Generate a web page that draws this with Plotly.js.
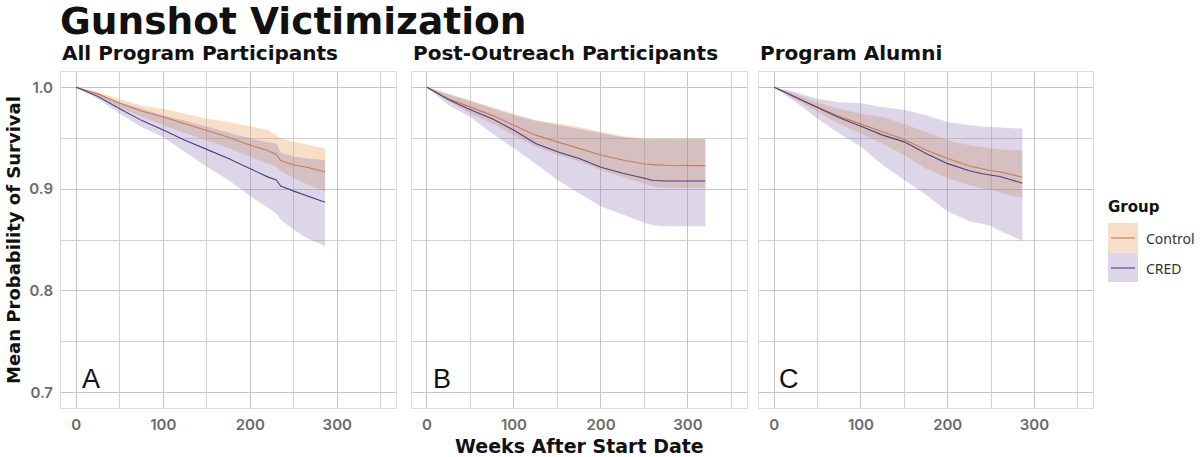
<!DOCTYPE html>
<html>
<head>
<meta charset="utf-8">
<script src="https://cdn.plot.ly/plotly-3.0.1.min.js"></script>
<style>html,body{margin:0;padding:0;background:#fff;}#chart{width:1200px;height:457px;}</style>
</head>
<body>
<div id="chart"></div>
<script>
// ---- Data ----
const panelTitles = ["All Program Participants", "Post-Outreach Participants", "Program Alumni"];
const panelLetters = ["A", "B", "C"];
const groups = ["Control", "CRED"];
const xTicks = [0, 100, 200, 300];
const yTicks = [0.7, 0.8, 0.9, 1.0];

// Panel A
const weeksA = [0,25,50,75,100,125,150,175,200,220,230,235,250,265,286];
const controlA = [1,0.9935,0.9844,0.9766,0.9708,0.964,0.9578,0.951,0.943,0.938,0.934,0.928,0.9237,0.9214,0.917];
const credA = [1,0.991,0.979,0.9675,0.958,0.948,0.939,0.930,0.920,0.912,0.909,0.903,0.898,0.8935,0.887];
const controlUpA = [1,0.995,0.9886,0.982,0.979,0.974,0.969,0.966,0.9617,0.958,0.953,0.950,0.9464,0.944,0.940];
const controlLoA = [1,0.991,0.9805,0.971,0.9627,0.955,0.948,0.940,0.9318,0.925,0.922,0.918,0.9107,0.905,0.8977];
const credUpA = [1,0.994,0.9854,0.979,0.9724,0.967,0.961,0.955,0.9497,0.946,0.9448,0.936,0.932,0.930,0.9286];
const credLoA = [1,0.9886,0.974,0.961,0.951,0.9367,0.922,0.909,0.893,0.882,0.876,0.870,0.860,0.852,0.844];

// Panel B
const weeksB = [0,25,50,75,100,125,150,175,200,225,250,260,275,320];
const controlB = [1,0.9886,0.9805,0.9724,0.9627,0.953,0.9464,0.94,0.9334,0.9286,0.9247,0.924,0.9234,0.923];
const credB = [1,0.9877,0.978,0.969,0.9578,0.9448,0.9367,0.930,0.9214,0.9156,0.9107,0.9084,0.908,0.908];
const controlUpB = [1,0.9935,0.987,0.9805,0.974,0.9675,0.9643,0.961,0.9562,0.952,0.9497,0.9497,0.9497,0.9497];
const controlLoB = [1,0.9864,0.974,0.9643,0.953,0.9416,0.9334,0.927,0.9188,0.9123,0.9058,0.9026,0.901,0.901];
const credUpB = [1,0.993,0.986,0.979,0.9725,0.967,0.963,0.959,0.955,0.951,0.949,0.949,0.949,0.949];
const credLoB = [1,0.982,0.9708,0.9545,0.94,0.925,0.909,0.896,0.883,0.875,0.867,0.8646,0.8636,0.8636];

// Panel C
const weeksC = [0,25,50,75,100,125,150,175,200,225,240,250,260,270,286];
const controlC = [1,0.990,0.9805,0.9714,0.964,0.956,0.9487,0.9383,0.930,0.9227,0.9195,0.918,0.917,0.915,0.9117];
const credC = [1,0.990,0.9805,0.970,0.9617,0.953,0.9464,0.935,0.925,0.918,0.915,0.914,0.9123,0.910,0.9058];
const controlUpC = [1,0.9935,0.9854,0.979,0.974,0.9708,0.964,0.956,0.948,0.943,0.941,0.940,0.939,0.9385,0.9383];
const controlLoC = [1,0.9877,0.9756,0.964,0.9545,0.9448,0.9334,0.920,0.9107,0.904,0.901,0.899,0.897,0.894,0.8912];
const credUpC = [1,0.995,0.9886,0.9854,0.9844,0.9805,0.978,0.9724,0.966,0.9627,0.9615,0.961,0.960,0.9597,0.9594];
const credLoC = [1,0.9854,0.969,0.9545,0.9416,0.9237,0.909,0.8945,0.878,0.8685,0.866,0.8636,0.859,0.8555,0.849];

// ---- Styling ----
const ctrlLine = "rgb(200,125,85)";
const credLine = "rgb(78,64,128)";
const ctrlFill = "rgba(228,145,72,0.3)";
const credFill = "rgba(138,118,178,0.3)";
const headFont = "DejaVu Sans, Inter, sans-serif";

const panels = [
  {w: weeksA, c: controlA, r: credA, cu: controlUpA, cl: controlLoA, ru: credUpA, rl: credLoA},
  {w: weeksB, c: controlB, r: credB, cu: controlUpB, cl: controlLoB, ru: credUpB, rl: credLoB},
  {w: weeksC, c: controlC, r: credC, cu: controlUpC, cl: controlLoC, ru: credUpC, rl: credLoC}
];

const traces = [];
panels.forEach((p, i) => {
  const xa = i === 0 ? "x" : "x" + (i + 1);
  const ya = i === 0 ? "y" : "y" + (i + 1);
  const base = {xaxis: xa, yaxis: ya, mode: "lines", showlegend: false, hoverinfo: "skip"};
  traces.push(Object.assign({}, base, {x: p.w, y: p.cl, line: {width: 0, color: ctrlFill}}));
  traces.push(Object.assign({}, base, {x: p.w, y: p.cu, line: {width: 0, color: ctrlFill}, fill: "tonexty", fillcolor: ctrlFill}));
  traces.push(Object.assign({}, base, {x: p.w, y: p.rl, line: {width: 0, color: credFill}}));
  traces.push(Object.assign({}, base, {x: p.w, y: p.ru, line: {width: 0, color: credFill}, fill: "tonexty", fillcolor: credFill}));
  traces.push(Object.assign({}, base, {x: p.w, y: p.c, name: groups[0], line: {width: 1.1, color: ctrlLine}}));
  traces.push(Object.assign({}, base, {x: p.w, y: p.r, name: groups[1], line: {width: 1.1, color: credLine}}));
});

const L = 61, R = 107, T = 72, B = 49, W = 1200, H = 457;
const pw = W - L - R, ph = H - T - B;
const px = v => (v - L) / pw;
const py = v => (H - B - v) / ph;

const domains = [[px(61), px(396)], [px(411.7), px(746.7)], [px(759), px(1093.3)]];

const tickFont = {family: "Inter, Lato, sans-serif", size: 15, color: "#6b6b6b", weight: 600};
function xAxis(i) {
  return {
    domain: domains[i], anchor: i === 0 ? "y" : "y" + (i + 1),
    range: [-17.5, 367.5], tickvals: xTicks, ticktext: xTicks.map(String),
    showgrid: true, gridcolor: "#c6c6c6", gridwidth: 1,
    minor: {dtick: 50, tick0: 0, showgrid: true, gridcolor: "#d2d2d2", gridwidth: 1},
    zeroline: false, showline: true, mirror: true, linecolor: "#dcdcdc", linewidth: 1,
    ticks: "outside", ticklen: 3, tickcolor: "rgba(0,0,0,0)",
    tickfont: tickFont, fixedrange: true
  };
}
function yAxis(i) {
  return {
    domain: [0, 1], anchor: i === 0 ? "x" : "x" + (i + 1),
    range: [0.685, 1.015], tickvals: yTicks, ticktext: yTicks.map(v => v.toFixed(1)),
    showticklabels: i === 0,
    showgrid: true, gridcolor: "#c6c6c6", gridwidth: 1,
    minor: {dtick: 0.05, tick0: 0.7, showgrid: true, gridcolor: "#d2d2d2", gridwidth: 1},
    zeroline: false, showline: true, mirror: true, linecolor: "#dcdcdc", linewidth: 1,
    ticks: "outside", ticklen: 4, tickcolor: "rgba(0,0,0,0)",
    tickfont: tickFont, fixedrange: true
  };
}

const annotations = [];
panelTitles.forEach((t, i) => {
  annotations.push({text: "<b>" + t + "</b>", xref: "paper", yref: "paper", x: domains[i][0] - 0.001, y: py(53),
    xanchor: "left", yanchor: "middle", showarrow: false,
    font: {family: headFont, size: 20, color: "#111"}});
  annotations.push({text: panelLetters[i], xref: i === 0 ? "x" : "x" + (i + 1), yref: i === 0 ? "y" : "y" + (i + 1),
    x: 17, y: 0.713, xanchor: "center", yanchor: "middle", showarrow: false,
    font: {family: "Liberation Sans, Arial, sans-serif", size: 27, color: "#111"}});
});
annotations.push({text: "<b>Mean Probability of Survival</b>", xref: "paper", yref: "paper", x: px(13), y: py(240),
  textangle: -90, xanchor: "center", yanchor: "middle", showarrow: false,
  font: {family: headFont, size: 18, color: "#111"}});
annotations.push({text: "<b>Weeks After Start Date</b>", xref: "paper", yref: "paper", x: px(579), y: py(446),
  xanchor: "center", yanchor: "middle", showarrow: false,
  font: {family: headFont, size: 19, color: "#111"}});
// legend
annotations.push({text: "<b>Group</b>", xref: "paper", yref: "paper", x: px(1106), y: py(207),
  xanchor: "left", yanchor: "middle", showarrow: false,
  font: {family: headFont, size: 15, color: "#111"}});
annotations.push({text: groups[0], xref: "paper", yref: "paper", x: px(1144), y: py(238),
  xanchor: "left", yanchor: "middle", showarrow: false,
  font: {family: "Noto Sans, sans-serif", size: 14, color: "#333"}});
annotations.push({text: groups[1], xref: "paper", yref: "paper", x: px(1144), y: py(268),
  xanchor: "left", yanchor: "middle", showarrow: false,
  font: {family: "Noto Sans, sans-serif", size: 14, color: "#333"}});

const shapes = [
  {type: "rect", xref: "paper", yref: "paper", x0: px(1108), x1: px(1138), y0: py(223), y1: py(253), fillcolor: ctrlFill, line: {width: 0}},
  {type: "rect", xref: "paper", yref: "paper", x0: px(1108), x1: px(1138), y0: py(253), y1: py(282), fillcolor: credFill, line: {width: 0}},
  {type: "line", xref: "paper", yref: "paper", x0: px(1111), x1: px(1135), y0: py(238), y1: py(238), line: {width: 1.1, color: ctrlLine}},
  {type: "line", xref: "paper", yref: "paper", x0: px(1111), x1: px(1135), y0: py(268), y1: py(268), line: {width: 1.1, color: credLine}}
];

const layout = {
  width: W, height: H,
  margin: {l: L, r: R, t: T, b: B, pad: 0},
  paper_bgcolor: "#fff", plot_bgcolor: "#fff",
  showlegend: false,
  title: {text: "<b>Gunshot Victimization</b>", xref: "container", yref: "container",
    x: 60 / W, xanchor: "left", y: 1 - 21 / H, yanchor: "middle",
    font: {family: headFont, size: 37.5, color: "#111"}},
  xaxis: xAxis(0), xaxis2: xAxis(1), xaxis3: xAxis(2),
  yaxis: yAxis(0), yaxis2: yAxis(1), yaxis3: yAxis(2),
  annotations: annotations, shapes: shapes
};

Plotly.newPlot("chart", traces, layout, {displayModeBar: false, staticPlot: true});
</script>
</body>
</html>
